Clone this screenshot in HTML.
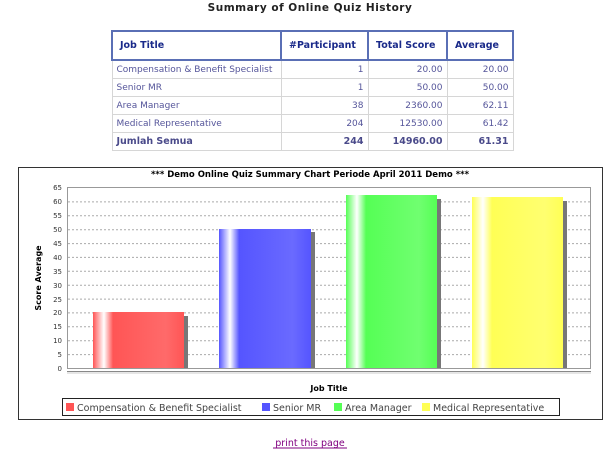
<!DOCTYPE html>
<html><head><style>
body{margin:0;width:610px;height:454px;background:#fff;font-family:"DejaVu Sans","Liberation Sans",sans-serif;position:relative;overflow:hidden}
.t{position:absolute;left:0;width:620px;top:2px;text-align:center;font-weight:bold;font-size:10.5px;color:#222;letter-spacing:0.5px}
table{position:absolute;left:111px;top:30px;border-collapse:collapse;table-layout:fixed;width:401px;font-size:9px;color:#55559a}
td{border:1px solid #d6d6d6;height:17px;padding:0 4px;white-space:nowrap;overflow:hidden}
th{border:2px solid #5a6fb5;height:27px;color:#1a2a8a;font-size:9.5px;text-align:left;padding:0 7px;white-space:nowrap;overflow:hidden}
.r{text-align:right}
.b td{font-weight:bold;font-size:9.5px;color:#4a4a8a}
</style></head><body>
<div class="t">Summary of Online Quiz History</div>
<table>
<colgroup><col style="width:169px"><col style="width:87px"><col style="width:79px"><col style="width:66px"></colgroup>
<tr><th>Job Title</th><th>#Participant</th><th>Total Score</th><th>Average</th></tr>
<tr><td>Compensation &amp; Benefit Specialist</td><td class="r">1</td><td class="r">20.00</td><td class="r">20.00</td></tr>
<tr><td>Senior MR</td><td class="r">1</td><td class="r">50.00</td><td class="r">50.00</td></tr>
<tr><td>Area Manager</td><td class="r">38</td><td class="r">2360.00</td><td class="r">62.11</td></tr>
<tr><td>Medical Representative</td><td class="r">204</td><td class="r">12530.00</td><td class="r">61.42</td></tr>
<tr class="b"><td>Jumlah Semua</td><td class="r">244</td><td class="r">14960.00</td><td class="r">61.31</td></tr>
</table>
<svg style="position:absolute;left:0;top:0" width="610" height="454" font-family="DejaVu Sans, Liberation Sans, sans-serif">
<defs>
<linearGradient id="gr" x1="0" x2="1"><stop offset="0" stop-color="#ff5555"/><stop offset="0.12" stop-color="#fff"/><stop offset="0.22" stop-color="#ff5555"/><stop offset="0.8" stop-color="#ff6a6a"/><stop offset="1" stop-color="#ff5555"/></linearGradient>
<linearGradient id="gb" x1="0" x2="1"><stop offset="0" stop-color="#5555ff"/><stop offset="0.12" stop-color="#fff"/><stop offset="0.22" stop-color="#5555ff"/><stop offset="0.8" stop-color="#6a6aff"/><stop offset="1" stop-color="#5555ff"/></linearGradient>
<linearGradient id="gg" x1="0" x2="1"><stop offset="0" stop-color="#55ff55"/><stop offset="0.12" stop-color="#fff"/><stop offset="0.22" stop-color="#55ff55"/><stop offset="0.8" stop-color="#70ff70"/><stop offset="1" stop-color="#55ff55"/></linearGradient>
<linearGradient id="gy" x1="0" x2="1"><stop offset="0" stop-color="#ffff55"/><stop offset="0.12" stop-color="#fff"/><stop offset="0.22" stop-color="#ffff55"/><stop offset="0.8" stop-color="#ffff70"/><stop offset="1" stop-color="#ffff55"/></linearGradient>
</defs>
<rect x="18.5" y="167.5" width="584" height="252" fill="#fff" stroke="#333"/>
<text x="310" y="177" text-anchor="middle" font-size="8.5" font-weight="bold">*** Demo Online Quiz Summary Chart Periode April 2011 Demo ***</text>
<rect x="67.5" y="187.5" width="523" height="181" fill="#fff" stroke="#999"/>
<g stroke="#aaa" stroke-dasharray="2,2">
<line x1="68" x2="590" y1="201.9" y2="201.9"/><line x1="68" x2="590" y1="215.8" y2="215.8"/><line x1="68" x2="590" y1="229.7" y2="229.7"/><line x1="68" x2="590" y1="243.6" y2="243.6"/><line x1="68" x2="590" y1="257.4" y2="257.4"/><line x1="68" x2="590" y1="271.3" y2="271.3"/><line x1="68" x2="590" y1="285.2" y2="285.2"/><line x1="68" x2="590" y1="299.1" y2="299.1"/><line x1="68" x2="590" y1="312.9" y2="312.9"/><line x1="68" x2="590" y1="326.8" y2="326.8"/><line x1="68" x2="590" y1="340.7" y2="340.7"/><line x1="68" x2="590" y1="354.6" y2="354.6"/>
</g>
<g font-size="7" fill="#333" text-anchor="end">
<text x="62" y="190">65</text><text x="62" y="204">60</text><text x="62" y="218">55</text><text x="62" y="232">50</text><text x="62" y="246">45</text><text x="62" y="260">40</text><text x="62" y="274">35</text><text x="62" y="288">30</text><text x="62" y="302">25</text><text x="62" y="315">20</text><text x="62" y="329">15</text><text x="62" y="343">10</text><text x="62" y="357">5</text><text x="62" y="371">0</text>
</g>
<text transform="translate(41,278) rotate(-90)" text-anchor="middle" font-size="8" font-weight="bold">Score Average</text>
<g fill="#777">
<rect x="184" y="316" width="4" height="52"/><rect x="311" y="232" width="4" height="136"/><rect x="437" y="199" width="4" height="169"/><rect x="563" y="201" width="4" height="167"/>
</g>
<rect x="93" y="312" width="91" height="56" fill="url(#gr)"/>
<rect x="219" y="229" width="92" height="139" fill="url(#gb)"/>
<rect x="346" y="195" width="91" height="173" fill="url(#gg)"/>
<rect x="472" y="197" width="91" height="171" fill="url(#gy)"/>
<line x1="67" x2="591" y1="371.5" y2="371.5" stroke="#888"/>
<line x1="67" x2="591" y1="373" y2="373" stroke="#ccc"/>
<text x="329" y="391" text-anchor="middle" font-size="8" font-weight="bold">Job Title</text>
<rect x="62.5" y="398.5" width="497" height="17" fill="#fff" stroke="#222"/>
<g font-size="9.5" fill="#444">
<rect x="66" y="403" width="8" height="8" fill="#ff5555"/><text x="77" y="411">Compensation &amp; Benefit Specialist</text>
<rect x="262" y="403" width="8" height="8" fill="#5555ff"/><text x="273" y="411">Senior MR</text>
<rect x="334" y="403" width="8" height="8" fill="#55ff55"/><text x="345" y="411">Area Manager</text>
<rect x="422" y="403" width="8" height="8" fill="#ffff55"/><text x="433" y="411">Medical Representative</text>
</g>
<text x="310" y="446" text-anchor="middle" font-size="9.5" fill="#800080">print this page</text>
<line x1="273" x2="347" y1="448" y2="448" stroke="#800080"/>
</svg>
</body></html>
